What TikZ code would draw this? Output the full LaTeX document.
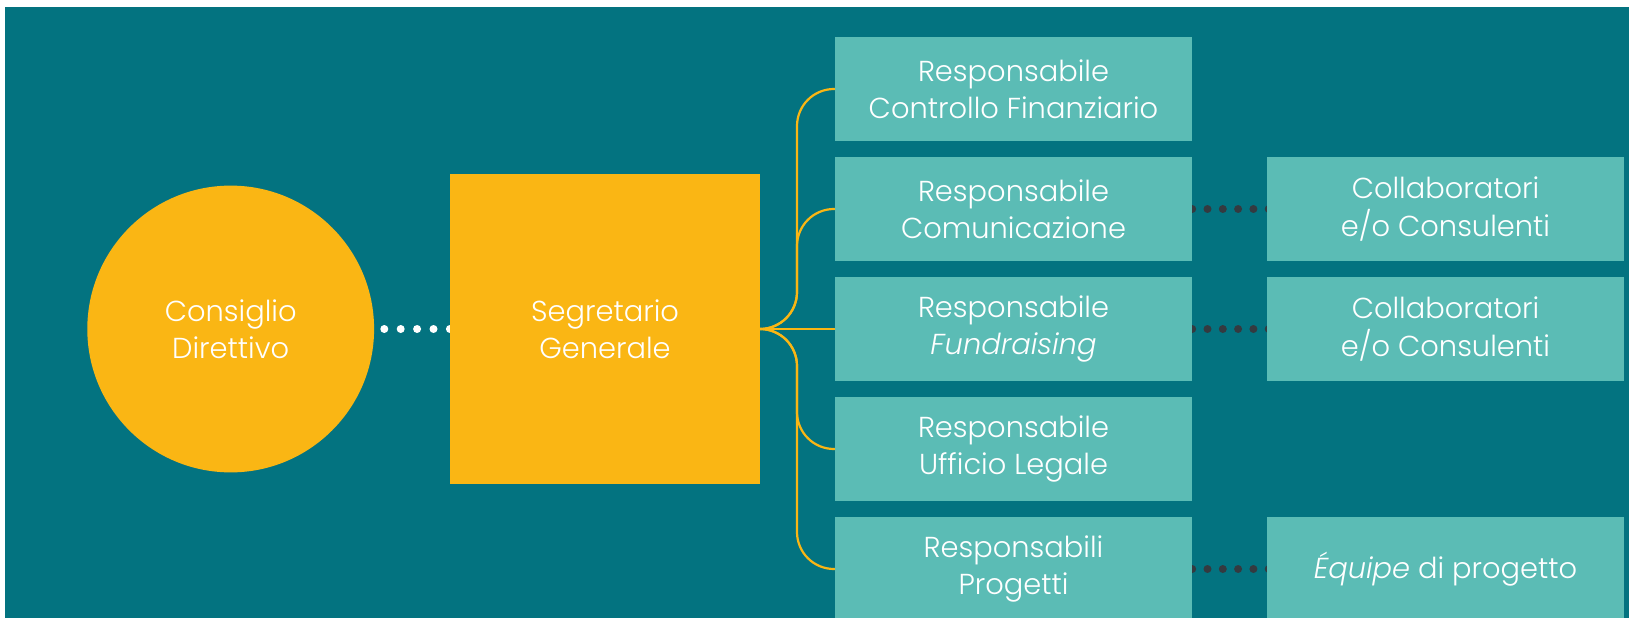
\documentclass[tikz,border=0pt]{standalone}
\usepackage{fontspec}
\IfFontExistsTF{Poppins Light}{\setmainfont{Poppins Light}[ItalicFont={Poppins Light Italic}]}{\setmainfont{Poppins}}
\definecolor{bgteal}{RGB}{3,115,128}
\definecolor{boxteal}{RGB}{91,188,181}
\definecolor{gold}{RGB}{250,182,20}
\definecolor{darkdot}{RGB}{52,58,64}
\pgfdeclarelayer{background}
\pgfsetlayers{background,main}
\begin{document}
\begin{tikzpicture}[x=1bp,y=-1bp,
  txt/.style={text=white,align=center,font=\fontsize{29}{37.4}\selectfont},
  lbox/.style={txt,fill=boxteal,draw=none,minimum width=357bp,minimum height=104bp,inner sep=0pt},
  conn/.style={draw=gold,line width=2.2bp,rounded corners=37bp},
  wdots/.style={draw=white,line width=8bp,line cap=round,dash pattern=on 0bp off 16.4bp},
  ddots/.style={draw=darkdot,line width=8bp,line cap=round,dash pattern=on 0bp off 15.3bp}]
\useasboundingbox (0,0) rectangle (1629,618);
% main nodes
\node[txt,circle,fill=gold,minimum size=286.8bp,inner sep=0pt] (cd) at (230.7,329) {Consiglio\\Direttivo};
\node[txt,fill=gold,minimum size=310bp,inner sep=0pt] (sg) at (605,329) {Segretario\\Generale};
\coordinate (wd) at (384.3,329);
\coordinate (tk) at (797,329);
% boxes
\node[lbox] (b1) at (1013.5,89) {Responsabile\\Controllo Finanziario};
\node[lbox] (b2) at (1013.5,209) {Responsabile\\Comunicazione};
\node[lbox] (b3) at (1013.5,329) {Responsabile\\\textit{Fundraising}};
\node[lbox] (b4) at (1013.5,449) {Responsabile\\Ufficio Legale};
\node[lbox] (b5) at (1013.5,569) {Responsabili\\Progetti};
\node[lbox] (c2) at (1445.5,209) {Collaboratori\\e/o Consulenti};
\node[lbox] (c3) at (1445.5,329) {Collaboratori\\e/o Consulenti};
\node[lbox] (c5) at (1445.5,569) {\textit{Équipe} di progetto};
% connectors behind boxes
\begin{pgfonlayer}{background}
\fill[white] (0,0) rectangle (1629,618);
\fill[bgteal] (5,7) rectangle (1629,618);
\draw[wdots] (wd) -- (sg.center);
\draw[conn] (sg.east) -- (tk) |- (b1.west);
\draw[conn] (sg.east) -- (tk) |- (b2.west);
\draw[conn] (sg.east) -- (b3.west);
\draw[conn] (sg.east) -- (tk) |- (b4.west);
\draw[conn] (sg.east) -- (tk) |- (b5.west);
\draw[ddots] (b2.east) -- (c2.center);
\draw[ddots] (b3.east) -- (c3.center);
\draw[ddots] (b5.east) -- (c5.center);
\end{pgfonlayer}
\end{tikzpicture}
\end{document}
